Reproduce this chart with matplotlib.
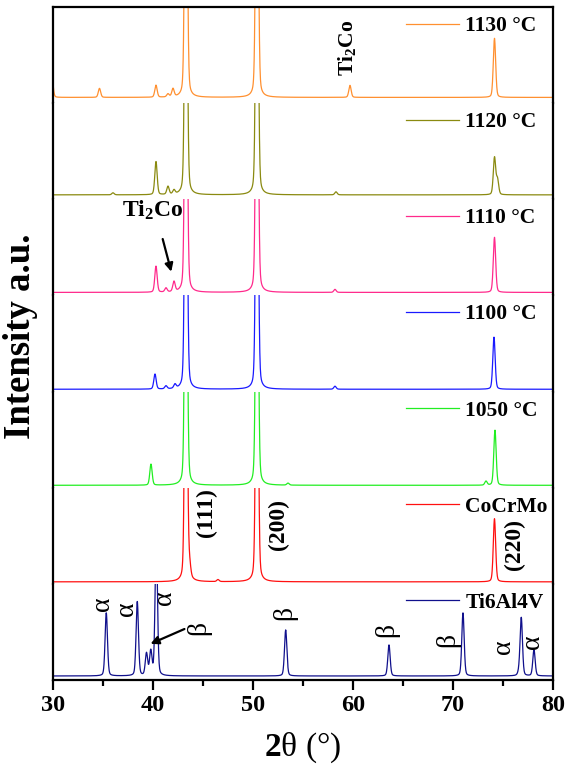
import numpy as np
import matplotlib.pyplot as plt

plt.rcParams['font.family'] = 'Liberation Serif'
plt.rcParams['font.weight'] = 'bold'
plt.rcParams['mathtext.fontset'] = 'custom'
plt.rcParams['mathtext.rm'] = 'Liberation Serif'
plt.rcParams['mathtext.bf'] = 'Liberation Serif:bold'
plt.rcParams['mathtext.it'] = 'Liberation Serif:italic'

# traces, top to bottom
labels = ['1130 °C', '1120 °C', '1110 °C', '1100 °C', '1050 °C', 'CoCrMo', 'Ti6Al4V']
colors = ['#ff9030', '#8a8a10', '#ff2a8c', '#1a1aff', '#22ee22', '#ff1010', '#10108c']

# peak positions (2theta) and heights (a.u.)
pos_1130 = [29.9, 34.65, 40.3, 41.5, 42.0, 43.3, 50.4, 59.7, 74.15]
amp_1130 = [20, 9, 12, 3, 8, 400, 400, 12, 59]

pos_1120 = [36.0, 40.3, 41.5, 42.1, 43.3, 50.4, 58.3, 74.15, 74.45]
amp_1120 = [2, 33, 8, 4, 400, 400, 3, 37, 15]

pos_1110 = [40.3, 41.3, 42.1, 43.3, 50.4, 58.2, 74.15]
amp_1110 = [26, 4, 10, 400, 400, 3, 55]

pos_1100 = [40.2, 41.3, 42.2, 43.3, 50.4, 58.2, 74.1]
amp_1100 = [15, 3, 4, 400, 400, 3, 52]

pos_1050 = [39.8, 43.3, 50.4, 53.5, 73.3, 74.2]
amp_1050 = [21, 400, 400, 2, 4, 55]

pos_cocrmo = [43.3, 43.65, 46.5, 50.4, 74.15]
amp_cocrmo = [400, 12, 2, 400, 63]

pos_ti64 = [35.33, 38.43, 39.35, 39.78, 40.33, 53.27, 63.6, 71.0, 76.6, 76.83, 78.1]
amp_ti64 = [63, 74, 22, 24, 140, 46, 31, 63, 3, 58, 26]

peak_pos = [pos_1130, pos_1120, pos_1110, pos_1100, pos_1050, pos_cocrmo, pos_ti64]
peak_amp = [amp_1130, amp_1120, amp_1110, amp_1100, amp_1050, amp_cocrmo, amp_ti64]

# how far each baseline sits above the bottom of its strip
base_off = [5.7, 4.4, 3.0, 2.3, 2.4, 2.0, 4.0]
strip_h = 96

# reflection labels
hkl_text = ['(111)', '(200)', '(220)']
hkl_x = [45.35, 52.5, 76.1]
hkl_y = [69, 57, 37]

alpha_x = [34.95, 37.4, 41.2, 75.1, 78.0]
alpha_y = [72.5, 67.5, 78, 29, 34]
beta_x = [53.15, 63.4, 69.45]
beta_y = [62.5, 46, 36]


def pattern(x, positions, heights, hwhm=0.14, eta=0.25):
    # pseudo-Voigt peaks on a flat background
    y = np.zeros_like(x)
    for p, h in zip(positions, heights):
        d = (x - p) / hwhm
        lor = 1.0 / (1.0 + d ** 2)
        gau = np.exp(-np.log(2) * d ** 2)
        y += h * (eta * lor + (1 - eta) * gau)
    return y


def main():
    two_theta = np.linspace(30, 80, 3001)

    fig = plt.figure(figsize=(5.66, 7.75), dpi=100)
    axes = fig.subplots(7, 1, sharex=True, gridspec_kw=dict(hspace=0))
    fig.subplots_adjust(left=0.0936, right=0.977, top=0.991, bottom=0.1226)

    n = len(axes)
    for i, ax in enumerate(axes):
        y = pattern(two_theta, peak_pos[i], peak_amp[i])
        ax.plot(two_theta, y, color=colors[i], lw=0.9, label=labels[i])
        ax.set_ylim(-base_off[i], strip_h - base_off[i])
        ax.set_xlim(30, 80)
        ax.set_yticks([])
        for side in ['left', 'right', 'top', 'bottom']:
            ax.spines[side].set_linewidth(1.6)
        if i > 0:
            ax.spines['top'].set_visible(False)
        if i < n - 1:
            ax.spines['bottom'].set_visible(False)
            ax.tick_params(axis='x', which='both', bottom=False, labelbottom=False)
        ax.legend(loc='center left', bbox_to_anchor=(0.706, 1 - 19 / strip_h),
                  frameon=False, handlelength=2.45, handletextpad=0.3,
                  borderpad=0, borderaxespad=0,
                  prop={'family': 'Liberation Serif', 'weight': 'bold', 'size': 15.5})

    bottom = axes[-1]
    bottom.set_xticks([30, 40, 50, 60, 70, 80])
    bottom.set_xticks([35, 45, 55, 65, 75], minor=True)
    bottom.tick_params(axis='x', which='major', length=7, width=1.6, labelsize=17.5, pad=4)
    bottom.tick_params(axis='x', which='minor', length=4, width=1.6)
    bottom.set_xlabel(r'$\mathbf{2}$θ (°)', fontsize=24, fontweight='normal', labelpad=10)

    fig.text(0.036, 0.566, 'Intensity a.u.', rotation=90, fontsize=26.5,
             fontweight='bold', ha='center', va='center')

    # Ti2Co marks
    axes[0].text(59.4, 49, r'Ti$_\mathbf{2}$Co', rotation=90, fontsize=15.5,
                 ha='center', va='center')
    axes[2].text(39.93, 82, r'Ti$_\mathbf{2}$Co', fontsize=17, ha='center', va='center')
    axes[2].annotate('', xy=(41.9, 18), xytext=(40.9, 56),
                     arrowprops=dict(arrowstyle='-|>', color='k', lw=1.6, mutation_scale=12))

    # CoCrMo reflections
    for t, x, y in zip(hkl_text, hkl_x, hkl_y):
        axes[5].text(x, y, t, rotation=90, fontsize=17, ha='center', va='center')

    # Ti6Al4V phases
    ti = axes[6]
    for x, y in zip(alpha_x, alpha_y):
        ti.text(x, y, 'α', rotation=90, fontsize=20, fontweight='normal', ha='center', va='center')
    for x, y in zip(beta_x, beta_y):
        ti.text(x, y, 'β', rotation=90, fontsize=20, fontweight='normal', ha='center', va='center')
    ti.text(44.6, 48, 'β', rotation=90, fontsize=20, fontweight='normal', ha='center', va='center')
    ti.annotate('', xy=(39.5, 31), xytext=(43.4, 48),
                arrowprops=dict(arrowstyle='-|>', color='k', lw=1.6, mutation_scale=12))

    fig.savefig('out.png', dpi=100)


if __name__ == '__main__':
    main()
